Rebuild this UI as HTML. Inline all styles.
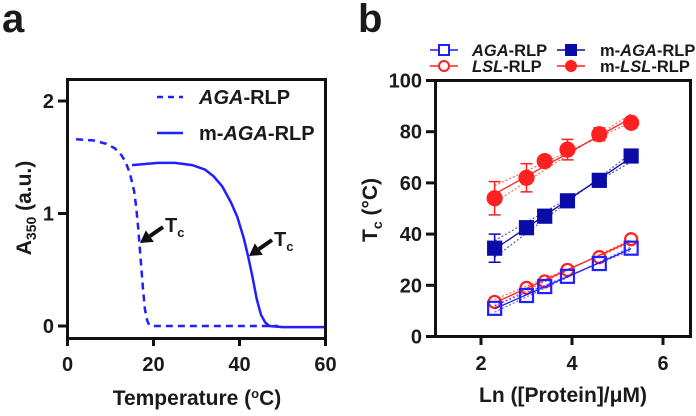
<!DOCTYPE html>
<html><head><meta charset="utf-8"><style>
body{margin:0;background:#fff}
text{font-family:"Liberation Sans",Arial,sans-serif;font-weight:bold;fill:#1a1a1a}
</style></head><body>
<svg id="fig" width="696" height="411" viewBox="0 0 696 411" xmlns="http://www.w3.org/2000/svg">
<text x="2" y="32" font-size="40">a</text>
<text x="358" y="32" font-size="40">b</text>
<g id="pa"></g>
<g id="pb"></g>
<g fill="#111">
<rect x="66" y="78" width="261" height="3"/><rect x="66" y="337" width="261" height="3"/>
<rect x="66" y="78" width="3" height="262"/><rect x="324" y="78" width="3" height="262"/>
</g>
<g fill="#111">
<rect x="434" y="79" width="258" height="3"/><rect x="434" y="335" width="258" height="3"/>
<rect x="434" y="79" width="3" height="259"/><rect x="689" y="79" width="3" height="259"/>
</g>
</svg>
<script>
// Panel a data
const aTemp1 = [2,6,9,11,12.5,13.5,14.5,15.5,16,16.5,17,17.5,18,18.5,19,20,25,30,35,40,45,49];
const aAbs1 = [1.66,1.65,1.62,1.58,1.52,1.46,1.36,1.2,1.05,0.85,0.6,0.35,0.15,0.05,0.01,0,0,0,0,0,0,0];
const aTemp2 = [15,18,21,25,29,32,34,36,38,39.5,41,42,43,44,45,46,47,50,55,60];
const aAbs2 = [1.43,1.44,1.45,1.45,1.43,1.39,1.33,1.24,1.1,0.97,0.78,0.62,0.44,0.24,0.1,0.03,0,-0.01,-0.01,-0.01];
const aXTicks = [0,20,40,60];
const aYTicks = [0,1,2];
// Panel b data
const bX = [2.3,3.0,3.4,3.9,4.6,5.3];
const bAGA = [11,16,19.5,23.5,28.5,34.5];
const bLSL = [13.5,19,21.5,26,31,38];
const bmAGA = [34.5,42.5,47,53,61,70.5];
const bmAGAErr = [5.5,1,1,1,1,1];
const bmLSL = [54,62,68.5,73,79,83.5];
const bmLSLErr = [6.5,5.5,2,4,2.5,1];
const bXTicks = [2,4,6];
const bYTicks = [0,20,40,60,80,100];

const NS="http://www.w3.org/2000/svg";
function mk(p,t,a){const e=document.createElementNS(NS,t);for(const k in a)e.setAttribute(k,a[k]);p.appendChild(e);return e;}
const BLUE="#1f1fff",RED="#ff2020",NAVY="#0b0ba8",BLK="#111";
function tickRect(p,x,y,w,h){const r=mk(p,'rect',{x:x,y:y,width:w,height:h,fill:BLK});
 
 }

// ---- Panel a ----
const pa=document.getElementById('pa');
const ax=v=>67.5+v*(258/60), ay=v=>326-v*112.5;
function pathOf(xs,ys,fx,fy){return xs.map((x,i)=>(i?'L':'M')+fx(x).toFixed(1)+' '+fy(ys[i]).toFixed(1)).join(' ');}
let e=mk(pa,'path',{d:pathOf(aTemp1,aAbs1,ax,ay),fill:'none',stroke:BLUE,'stroke-width':2.5,'stroke-dasharray':'7,5'});


e=mk(pa,'path',{d:pathOf(aTemp2,aAbs2,ax,ay),fill:'none',stroke:BLUE,'stroke-width':2.5});


aXTicks.forEach(t=>{tickRect(pa,ax(t)-1.5,338,3,8);
 const tx=mk(pa,'text',{x:ax(t),y:371,'font-size':20,'text-anchor':'middle'});tx.textContent=t;
 
 });
aYTicks.forEach(t=>{tickRect(pa,58,ay(t)-1.5,9,3);
 const tx=mk(pa,'text',{x:54,y:ay(t)+7,'font-size':20,'text-anchor':'end'});tx.textContent=t;
 
 });
e=mk(pa,'text',{x:197,y:405,'font-size':21,'text-anchor':'middle'});
e.innerHTML='Temperature (<tspan dy="-7" font-size="13">o</tspan><tspan dy="7">C)</tspan>';


e=mk(pa,'text',{transform:'translate(31,208) rotate(-90)','font-size':21,'text-anchor':'middle'});
e.innerHTML='A<tspan dy="5" font-size="14">350</tspan><tspan dy="-5"> (a.u.)</tspan>';


mk(pa,'line',{x1:157,x2:183,y1:97,y2:97,stroke:BLUE,'stroke-width':2.5,'stroke-dasharray':'6,5'});
e=mk(pa,'text',{x:199,y:104,'font-size':20});e.innerHTML='<tspan font-style="italic">AGA</tspan>-RLP';


mk(pa,'line',{x1:157,x2:183,y1:133,y2:133,stroke:BLUE,'stroke-width':2.5});
e=mk(pa,'text',{x:199,y:140,'font-size':20});e.innerHTML='m-<tspan font-style="italic">AGA</tspan>-RLP';


function arrow(x1,y1,x2,y2,name){const g=mk(pa,'g',{});
 const dx=x2-x1,dy=y2-y1,L=Math.hypot(dx,dy),ux=dx/L,uy=dy/L;const bx=x2-ux*12,by=y2-uy*12;
 mk(g,'line',{x1:x1,y1:y1,x2:bx,y2:by,stroke:BLK,'stroke-width':4});
 mk(g,'polygon',{points:`${x2},${y2} ${bx-uy*7},${by+ux*7} ${bx+uy*7},${by-ux*7}`,fill:BLK});}
arrow(163,227,140,243,'tc-arrow-1');arrow(272,240,249,256,'tc-arrow-2');
e=mk(pa,'text',{x:165,y:232,'font-size':20});e.innerHTML='T<tspan dy="5" font-size="13">c</tspan>';


e=mk(pa,'text',{x:274,y:246,'font-size':20});e.innerHTML='T<tspan dy="5" font-size="13">c</tspan>';



// ---- Panel b ----
const pb=document.getElementById('pb');
const bx=v=>435.5+(v-1)*45.5, by=v=>336.5-v*2.56;
function fit(xs,ys){const n=xs.length,mx=xs.reduce((a,b)=>a+b)/n,my=ys.reduce((a,b)=>a+b)/n;
 let sxy=0,sxx=0;xs.forEach((x,i)=>{sxy+=(x-mx)*(ys[i]-my);sxx+=(x-mx)**2;});const m=sxy/sxx;return [m,my-m*mx];}
function series(ys,err,col,shape,fill,name){
 const g=mk(pb,'g',{});
 const [m,c]=fit(bX,ys);const x0=bX[0],x1=bX[bX.length-1];
 const sp=err?2.5:1;
 [-1,1].forEach(s=>mk(g,'line',{x1:bx(x0),y1:by(m*x0+c+s*sp*1.3),x2:bx(x1),y2:by(m*x1+c+s*sp*0.9)+(s*sp*4),stroke:col,'stroke-width':1.2,'stroke-dasharray':'2,2',opacity:0.7}));
 mk(g,'line',{x1:bx(x0),y1:by(m*x0+c),x2:bx(x1),y2:by(m*x1+c),stroke:col,'stroke-width':1.3});
 bX.forEach((x,i)=>{const cx=bx(x),cy=by(ys[i]);
  if(err&&err[i]){mk(g,'line',{x1:cx,x2:cx,y1:by(ys[i]-err[i]),y2:by(ys[i]+err[i]),stroke:col,'stroke-width':1.5});
   [ys[i]-err[i],ys[i]+err[i]].forEach(v=>mk(g,'line',{x1:cx-6,x2:cx+6,y1:by(v),y2:by(v),stroke:col,'stroke-width':1.5}));}
  let mEl;
  if(shape==='sq') mEl=mk(g,'rect',{x:cx-6.5,y:cy-6.5,width:13,height:13,fill:fill?col:'none',stroke:col,'stroke-width':2.2});
  else mEl=mk(g,'circle',{cx:cx,cy:cy,r:fill?7:6,fill:fill?col:'none',stroke:col,'stroke-width':2.2});
  
  });}
series(bmLSL,bmLSLErr,RED,'ci',true,'m-lsl-series');
series(bmAGA,bmAGAErr,NAVY,'sq',true,'m-aga-series');
series(bLSL,null,RED,'ci',false,'lsl-series');
series(bAGA,null,BLUE,'sq',false,'aga-series');
bXTicks.forEach(t=>{tickRect(pb,bx(t)-1.5,337,3,8);
 const tx=mk(pb,'text',{x:bx(t),y:370,'font-size':20,'text-anchor':'middle'});tx.textContent=t;
 
 });
bYTicks.forEach(t=>{tickRect(pb,426,by(t)-1.5,9,3);
 const tx=mk(pb,'text',{x:422,y:by(t)+7,'font-size':20,'text-anchor':'end'});tx.textContent=t;
 
 });
e=mk(pb,'text',{x:563,y:402,'font-size':21,'text-anchor':'middle'});e.textContent='Ln ([Protein]/μM)';


e=mk(pb,'text',{transform:'translate(377,210) rotate(-90)','font-size':21,'text-anchor':'middle'});
e.innerHTML='T<tspan dy="5" font-size="14">c</tspan><tspan dy="-5"> (°C)</tspan>';


const leg=[[430,50,BLUE,'sq',false,'<tspan font-style="italic">AGA</tspan>-RLP','legend-aga'],
 [430,66,RED,'ci',false,'<tspan font-style="italic">LSL</tspan>-RLP','legend-lsl'],
 [557,50,NAVY,'sq',true,'m-<tspan font-style="italic">AGA</tspan>-RLP','legend-m-aga'],
 [557,66,RED,'ci',true,'m-<tspan font-style="italic">LSL</tspan>-RLP','legend-m-lsl']];
leg.forEach(([x,y,c,s,f,t,n])=>{const g=mk(pb,'g',{});
 mk(g,'line',{x1:x,x2:x+28,y1:y,y2:y,stroke:c,'stroke-width':1.5});
 if(s==='sq')mk(g,'rect',{x:x+9,y:y-5,width:10,height:10,fill:f?c:'#fff',stroke:c,'stroke-width':2});
 else mk(g,'circle',{cx:x+14,cy:y,r:5,fill:f?c:'#fff',stroke:c,'stroke-width':2});
 const tx=mk(g,'text',{x:x+(f?43:42),y:y+6,'font-size':16.5});tx.innerHTML=t;});
</script>
</body></html>
